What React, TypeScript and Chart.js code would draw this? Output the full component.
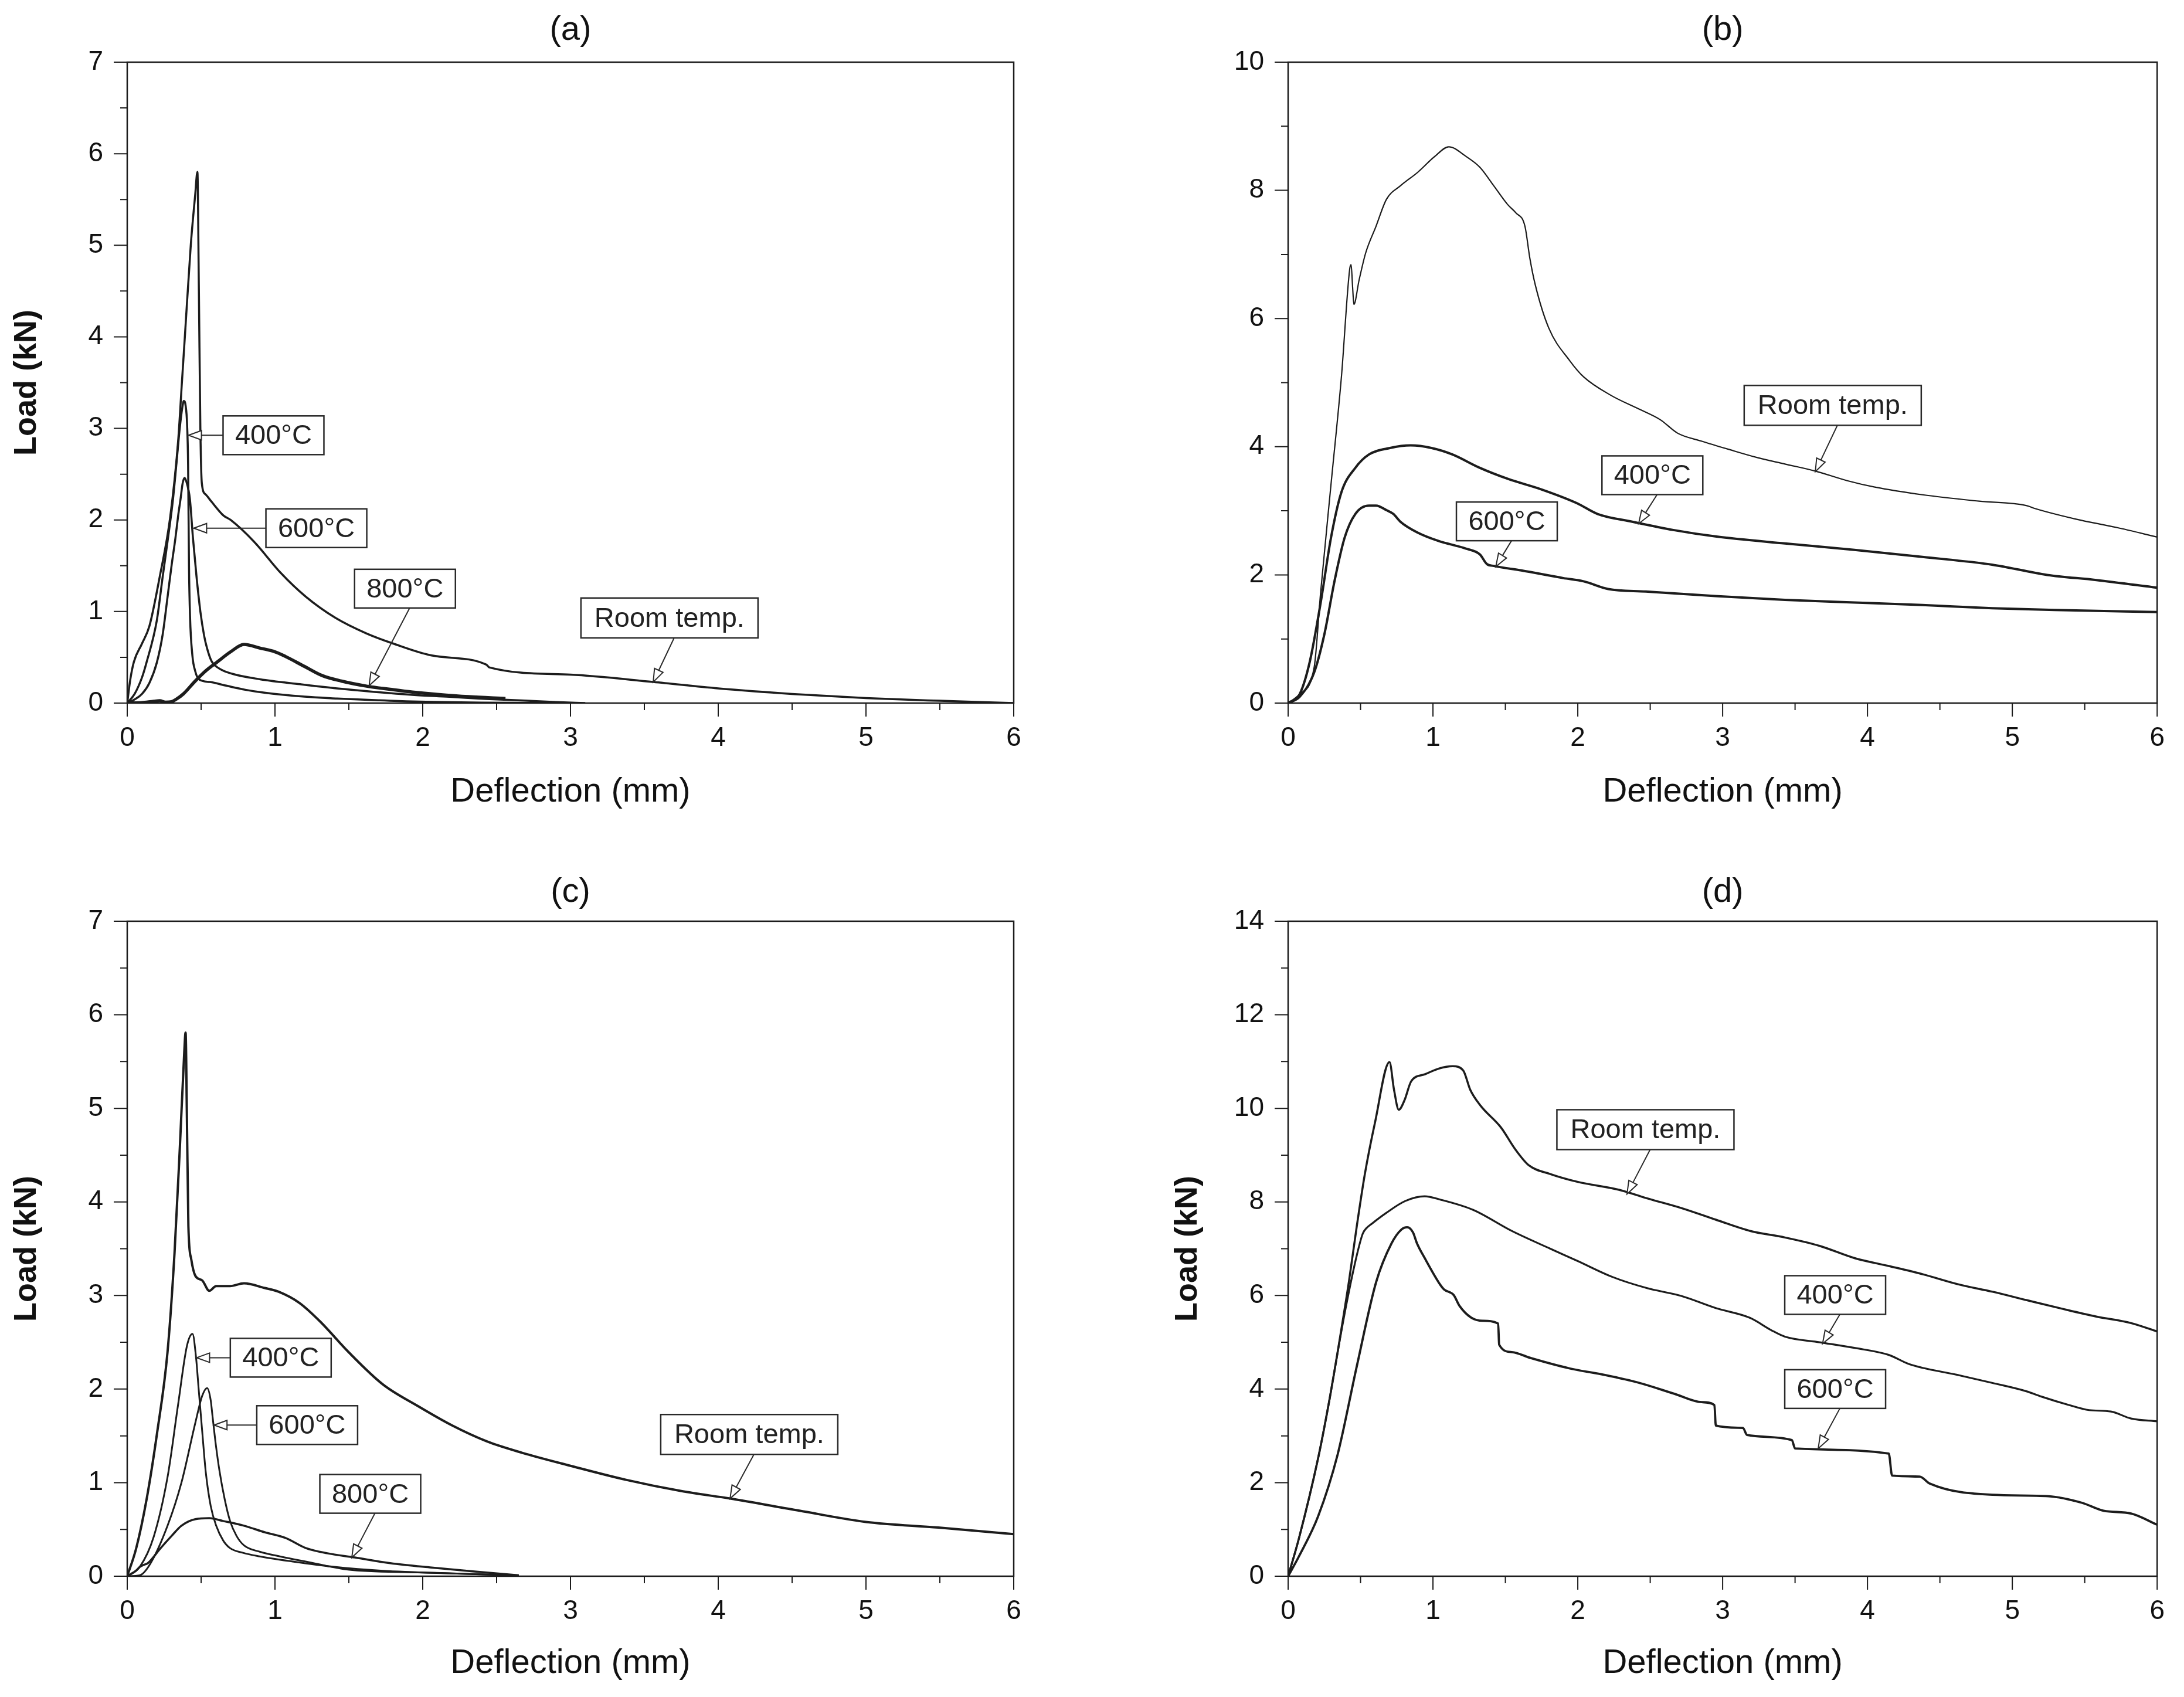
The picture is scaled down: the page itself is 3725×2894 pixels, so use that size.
import { useEffect, useRef } from 'react'
import { Chart, registerables } from 'chart.js'

Chart.register(...registerables)

type Pt = [number, number] // [deflection mm, load kN]

// ---- (a) ----
const roomTempA: Pt[] = [
  [0, 0], [0.02, 0.25], [0.045, 0.45], [0.1, 0.65], [0.15, 0.84], [0.22, 1.38], [0.29, 2.02], [0.345, 2.87],
  [0.37, 3.5], [0.39, 4.0], [0.43, 5.0], [0.46, 5.55], [0.475, 5.8], [0.485, 4.5], [0.495, 3.0], [0.505, 2.4],
  [0.53, 2.28], [0.57, 2.2], [0.65, 2.05], [0.7, 2.0], [0.86, 1.76], [1.04, 1.42], [1.21, 1.16], [1.41, 0.93],
  [1.62, 0.76], [1.8, 0.65], [2.06, 0.52], [2.43, 0.42], [2.45, 0.39], [3.0, 0.31], [3.56, 0.23], [4.0, 0.16],
  [4.5, 0.1], [5.0, 0.055], [5.5, 0.025], [6.0, 0],
]
const c400A: Pt[] = [
  [0, 0], [0.05, 0.1], [0.1, 0.28], [0.13, 0.44], [0.2, 0.9], [0.24, 1.38], [0.28, 1.85], [0.31, 2.23],
  [0.335, 2.65], [0.354, 2.98], [0.372, 3.22], [0.383, 3.3], [0.395, 3.25], [0.405, 3.05], [0.412, 2.6],
  [0.418, 1.5], [0.425, 0.95], [0.441, 0.52], [0.46, 0.35], [0.485, 0.26], [0.56, 0.23], [0.67, 0.19],
  [0.8, 0.145], [0.92, 0.115], [1.2, 0.07], [1.42, 0.05], [1.7, 0.03], [1.93, 0.017], [2.4, 0.005], [3.0, 0],
]
const c600A: Pt[] = [
  [0, 0], [0.05, 0.04], [0.1, 0.1], [0.15, 0.22], [0.2, 0.44], [0.24, 0.75], [0.273, 1.16], [0.3, 1.5],
  [0.326, 1.8], [0.345, 2.05], [0.361, 2.23], [0.375, 2.4], [0.388, 2.46], [0.4, 2.42], [0.424, 2.23],
  [0.445, 1.8], [0.469, 1.38], [0.495, 1.0], [0.52, 0.74], [0.54, 0.6], [0.57, 0.46], [0.62, 0.38],
  [0.71, 0.32], [0.9, 0.26], [1.17, 0.206], [1.42, 0.16], [1.675, 0.122], [1.93, 0.09], [2.18, 0.069],
  [2.43, 0.045], [2.69, 0.027], [2.9, 0.012], [3.1, 0],
]
const c800A: Pt[] = [
  [0, 0], [0.1, 0.005], [0.18, 0.02], [0.22, 0.025], [0.26, 0.01], [0.3, 0.015], [0.33, 0.04], [0.38, 0.1],
  [0.46, 0.24], [0.53, 0.35], [0.61, 0.45], [0.7, 0.56], [0.79, 0.64], [0.9, 0.6], [1.0, 0.56], [1.07, 0.51],
  [1.2, 0.4], [1.32, 0.3], [1.45, 0.24], [1.62, 0.185], [1.78, 0.15], [1.93, 0.12], [2.1, 0.095], [2.31, 0.07],
  [2.56, 0.05],
]

// ---- (b) ----
const roomTempB: Pt[] = [
  [0, 0], [0.08, 0.14], [0.18, 0.56], [0.225, 1.74], [0.296, 3.41], [0.368, 5.09], [0.425, 6.77], [0.435, 6.84],
  [0.445, 6.5], [0.454, 6.22], [0.49, 6.6], [0.535, 7.02], [0.607, 7.44], [0.679, 7.86], [0.775, 8.07],
  [0.894, 8.28], [1.013, 8.53], [1.109, 8.68], [1.228, 8.53], [1.324, 8.36], [1.42, 8.07], [1.515, 7.78],
  [1.572, 7.65], [1.635, 7.44], [1.669, 6.94], [1.707, 6.52], [1.8, 5.85], [1.945, 5.34], [2.04, 5.09],
  [2.23, 4.8], [2.42, 4.59], [2.57, 4.42], [2.69, 4.21], [2.85, 4.09], [3.04, 3.96], [3.24, 3.83], [3.43, 3.73],
  [3.64, 3.62], [3.86, 3.47], [4.05, 3.37], [4.38, 3.25], [4.77, 3.15], [5.1, 3.08], [5.15, 3.04], [5.44, 2.87],
  [5.72, 2.74], [6.0, 2.59],
]
const c400B: Pt[] = [
  [0, 0], [0.08, 0.14], [0.15, 0.65], [0.225, 1.57], [0.296, 2.58], [0.368, 3.29], [0.464, 3.67], [0.559, 3.88],
  [0.703, 3.98], [0.846, 4.02], [0.99, 3.98], [1.133, 3.88], [1.324, 3.67], [1.515, 3.5], [1.754, 3.33],
  [1.993, 3.12], [2.137, 2.95], [2.376, 2.83], [2.66, 2.7], [2.95, 2.6], [3.43, 2.49], [3.91, 2.39], [4.38, 2.28],
  [4.86, 2.16], [5.24, 2.0], [5.58, 1.92], [6.0, 1.8],
]
const c600B: Pt[] = [
  [0, 0], [0.08, 0.1], [0.18, 0.48], [0.25, 1.07], [0.32, 1.9], [0.39, 2.58], [0.464, 2.95], [0.559, 3.08],
  [0.607, 3.08], [0.679, 3.01], [0.727, 2.95], [0.775, 2.83], [0.894, 2.66], [1.037, 2.53], [1.228, 2.41],
  [1.324, 2.32], [1.372, 2.17], [1.42, 2.14], [1.61, 2.07], [1.9, 1.95], [2.04, 1.9], [2.21, 1.78], [2.47, 1.74],
  [2.95, 1.67], [3.43, 1.61], [3.91, 1.57], [4.38, 1.53], [4.86, 1.48], [5.34, 1.45], [6.0, 1.42],
]

// ---- (c) ----
const roomTempC: Pt[] = [
  [0, 0], [0.061, 0.3], [0.132, 0.83], [0.202, 1.53], [0.273, 2.4], [0.32, 3.45], [0.357, 4.61], [0.386, 5.6],
  [0.395, 5.81], [0.404, 4.9], [0.414, 3.74], [0.433, 3.39], [0.461, 3.21], [0.508, 3.16], [0.555, 3.05],
  [0.602, 3.1], [0.696, 3.1], [0.79, 3.13], [0.931, 3.08], [1.025, 3.04], [1.166, 2.92], [1.307, 2.72],
  [1.495, 2.4], [1.73, 2.05], [1.965, 1.82], [2.2, 1.61], [2.435, 1.44], [2.67, 1.32], [3.0, 1.18], [3.376, 1.03],
  [3.75, 0.91], [4.08, 0.83], [4.55, 0.7], [5.0, 0.58], [5.49, 0.52], [6.0, 0.45],
]
const c400C: Pt[] = [
  [0, 0], [0.085, 0.1], [0.179, 0.42], [0.273, 1.06], [0.343, 1.82], [0.404, 2.46], [0.442, 2.59], [0.465, 2.35],
  [0.484, 1.99], [0.51, 1.5], [0.531, 1.12], [0.565, 0.75], [0.602, 0.54], [0.65, 0.38], [0.696, 0.3],
  [0.784, 0.25], [0.884, 0.215], [1.12, 0.157], [1.4, 0.1], [1.73, 0.058], [2.2, 0.03], [2.65, 0.01],
]
const c600C: Pt[] = [
  [0, 0], [0.085, 0.01], [0.155, 0.13], [0.273, 0.54], [0.367, 1.0], [0.461, 1.64], [0.508, 1.93], [0.541, 2.01],
  [0.565, 1.88], [0.578, 1.7], [0.6, 1.4], [0.625, 1.12], [0.66, 0.82], [0.696, 0.59], [0.74, 0.43], [0.79, 0.33],
  [0.9, 0.26], [1.025, 0.215], [1.26, 0.14], [1.495, 0.07], [1.965, 0.04], [2.65, 0.01],
]
const c800C: Pt[] = [
  [0, 0], [0.06, 0.06], [0.085, 0.1], [0.11, 0.12], [0.14, 0.14], [0.226, 0.3], [0.3, 0.43], [0.367, 0.54],
  [0.461, 0.61], [0.555, 0.62], [0.649, 0.59], [0.79, 0.54], [0.93, 0.47], [1.07, 0.41], [1.21, 0.3],
  [1.354, 0.245], [1.54, 0.2], [1.78, 0.14], [2.06, 0.093], [2.34, 0.052], [2.65, 0.01],
]

// ---- (d) ----
const roomTempD: Pt[] = [
  [0, 0], [0.074, 0.8], [0.207, 2.52], [0.287, 3.8], [0.354, 5.02], [0.42, 6.3], [0.475, 7.5], [0.53, 8.6],
  [0.6, 9.7], [0.7, 10.99], [0.731, 10.4], [0.764, 9.97], [0.803, 10.17], [0.85, 10.58], [0.946, 10.73],
  [1.04, 10.85], [1.137, 10.9], [1.209, 10.81], [1.257, 10.4], [1.328, 10.06], [1.47, 9.59], [1.567, 9.13],
  [1.663, 8.78], [1.806, 8.6], [1.997, 8.43], [2.284, 8.26], [2.475, 8.08], [2.714, 7.87], [2.953, 7.62],
  [3.19, 7.38], [3.43, 7.24], [3.67, 7.06], [3.91, 6.8], [4.147, 6.63], [4.386, 6.45], [4.625, 6.24],
  [4.864, 6.08], [5.1, 5.9], [5.34, 5.72], [5.58, 5.55], [5.82, 5.41], [6.0, 5.23],
]
const c400D: Pt[] = [
  [0, 0], [0.074, 0.8], [0.207, 2.52], [0.287, 3.8], [0.354, 5.0], [0.408, 5.9], [0.475, 6.87], [0.515, 7.32],
  [0.541, 7.44], [0.58, 7.54], [0.675, 7.76], [0.809, 8.02], [0.943, 8.12], [1.05, 8.05], [1.277, 7.83],
  [1.544, 7.38], [1.81, 7.0], [1.997, 6.74], [2.236, 6.4], [2.475, 6.16], [2.714, 5.99], [2.953, 5.73],
  [3.19, 5.52], [3.335, 5.26], [3.43, 5.12], [3.67, 5.0], [3.91, 4.88], [4.147, 4.73], [4.29, 4.53], [4.625, 4.3],
  [4.864, 4.13], [5.1, 3.95], [5.2, 3.84], [5.39, 3.66], [5.53, 3.55], [5.68, 3.52], [5.82, 3.37], [6.0, 3.31],
]
const c600D: Pt[] = [
  [0, 0], [0.074, 0.42], [0.207, 1.28], [0.341, 2.59], [0.475, 4.5], [0.608, 6.29], [0.715, 7.12], [0.782, 7.41],
  [0.822, 7.46], [0.862, 7.35], [0.889, 7.12], [0.943, 6.8], [1.05, 6.23], [1.076, 6.13], [1.143, 6.01],
  [1.183, 5.78], [1.263, 5.53], [1.344, 5.46], [1.45, 5.4], [1.457, 4.95], [1.544, 4.79], [1.678, 4.66],
  [1.945, 4.44], [2.188, 4.3], [2.427, 4.13], [2.666, 3.9], [2.857, 3.72], [2.943, 3.66], [2.953, 3.22],
  [3.14, 3.17], [3.168, 3.02], [3.478, 2.91], [3.5, 2.73], [4.147, 2.62], [4.17, 2.15], [4.36, 2.13],
  [4.43, 1.98], [4.864, 1.74], [5.25, 1.71], [5.48, 1.57], [5.63, 1.4], [5.82, 1.34], [6.0, 1.1],
]

const FONT = '"Liberation Sans", Arial, Helvetica, sans-serif'
const INK = '#1c1c1c'

interface Note {
  text: string
  x: number // box centre (data)
  y: number
  w: number // box size (px)
  h: number
  arrow: 'left' | 'down'
  tipX: number
  tipY: number
}

interface Series {
  label: string
  data: Pt[]
  width: number
}

interface Panel {
  title: string
  yMax: number
  yStep: number
  yMinor: number
  showYTitle: boolean
  left: number
  top: number
  width: number
  height: number
  area: { left: number; top: number; right: number; bottom: number }
  titleY: number
  xTitleY: number
  series: Series[]
  notes: Note[]
}

const degBox = { w: 172, h: 66 }
const rtBox = { w: 302, h: 68 }

const panels: Panel[] = [
  {
    title: '(a)', yMax: 7, yStep: 1, yMinor: 0.5, showYTitle: true,
    left: 0, top: 0, width: 1862, height: 1447,
    area: { left: 217, top: 106, right: 1729, bottom: 1199 },
    titleY: 52, xTitleY: 1351,
    series: [
      { label: 'Room temp.', data: roomTempA, width: 3.5 },
      { label: '400°C', data: c400A, width: 3.5 },
      { label: '600°C', data: c600A, width: 3.5 },
      { label: '800°C', data: c800A, width: 5.5 },
    ],
    notes: [
      { text: '400°C', x: 0.99, y: 2.925, ...degBox, arrow: 'left', tipX: 0.415, tipY: 2.925 },
      { text: '600°C', x: 1.28, y: 1.91, ...degBox, arrow: 'left', tipX: 0.45, tipY: 1.91 },
      { text: '800°C', x: 1.88, y: 1.25, ...degBox, arrow: 'down', tipX: 1.637, tipY: 0.19 },
      { text: 'Room temp.', x: 3.67, y: 0.93, ...rtBox, arrow: 'down', tipX: 3.56, tipY: 0.23 },
    ],
  },
  {
    title: '(b)', yMax: 10, yStep: 2, yMinor: 1, showYTitle: false,
    left: 1862, top: 0, width: 1863, height: 1447,
    area: { left: 335, top: 106, right: 1830, bottom: 1199 },
    titleY: 52, xTitleY: 1351,
    series: [
      { label: 'Room temp.', data: roomTempB, width: 2.2 },
      { label: '400°C', data: c400B, width: 4 },
      { label: '600°C', data: c600B, width: 4 },
    ],
    notes: [
      { text: 'Room temp.', x: 3.76, y: 4.645, ...rtBox, arrow: 'down', tipX: 3.64, tipY: 3.61 },
      { text: '400°C', x: 2.515, y: 3.555, ...degBox, arrow: 'down', tipX: 2.42, tipY: 2.8 },
      { text: '600°C', x: 1.51, y: 2.835, ...degBox, arrow: 'down', tipX: 1.434, tipY: 2.13 },
    ],
  },
  {
    title: '(c)', yMax: 7, yStep: 1, yMinor: 0.5, showYTitle: true,
    left: 0, top: 1447, width: 1862, height: 1447,
    area: { left: 217, top: 124, right: 1729, bottom: 1241 },
    titleY: 75, xTitleY: 1390,
    series: [
      { label: 'Room temp.', data: roomTempC, width: 4 },
      { label: '400°C', data: c400C, width: 3 },
      { label: '600°C', data: c600C, width: 3 },
      { label: '800°C', data: c800C, width: 3.5 },
    ],
    notes: [
      { text: '400°C', x: 1.039, y: 2.335, ...degBox, arrow: 'left', tipX: 0.47, tipY: 2.335 },
      { text: '600°C', x: 1.218, y: 1.615, ...degBox, arrow: 'left', tipX: 0.588, tipY: 1.615 },
      { text: '800°C', x: 1.645, y: 0.88, ...degBox, arrow: 'down', tipX: 1.52, tipY: 0.2 },
      { text: 'Room temp.', x: 4.21, y: 1.515, ...rtBox, arrow: 'down', tipX: 4.08, tipY: 0.83 },
    ],
  },
  {
    title: '(d)', yMax: 14, yStep: 2, yMinor: 1, showYTitle: true,
    left: 1862, top: 1447, width: 1863, height: 1447,
    area: { left: 335, top: 124, right: 1830, bottom: 1241 },
    titleY: 75, xTitleY: 1390,
    series: [
      { label: 'Room temp.', data: roomTempD, width: 3.5 },
      { label: '400°C', data: c400D, width: 3.2 },
      { label: '600°C', data: c600D, width: 3.8 },
    ],
    notes: [
      { text: 'Room temp.', x: 2.467, y: 9.545, ...rtBox, arrow: 'down', tipX: 2.34, tipY: 8.17 },
      { text: '400°C', x: 3.777, y: 6.01, ...degBox, arrow: 'down', tipX: 3.69, tipY: 4.97 },
      { text: '600°C', x: 3.777, y: 4.0, ...degBox, arrow: 'down', tipX: 3.66, tipY: 2.73 },
    ],
  },
]

function decorPlugin(p: Panel) {
  return {
    id: 'decor',
    afterDraw(chart: Chart) {
      const { ctx, chartArea: ca } = chart
      const xs = chart.scales.x
      const ys = chart.scales.y
      ctx.save()

      // frame
      ctx.strokeStyle = INK
      ctx.lineWidth = 2.5
      ctx.strokeRect(ca.left, ca.top, ca.right - ca.left, ca.bottom - ca.top)

      // outward ticks, major + minor
      ctx.lineWidth = 2
      ctx.beginPath()
      for (let v = 0; v <= 6 + 1e-9; v += 0.5) {
        const px = xs.getPixelForValue(v)
        const len = Math.abs(v - Math.round(v)) < 1e-6 ? 23 : 12
        ctx.moveTo(px, ca.bottom)
        ctx.lineTo(px, ca.bottom + len)
      }
      for (let v = 0; v <= p.yMax + 1e-9; v += p.yMinor) {
        const py = ys.getPixelForValue(v)
        const major = Math.abs(v / p.yStep - Math.round(v / p.yStep)) < 1e-6
        ctx.moveTo(ca.left, py)
        ctx.lineTo(ca.left - (major ? 23 : 12), py)
      }
      ctx.stroke()

      // titles
      ctx.fillStyle = '#111'
      ctx.textAlign = 'center'
      ctx.textBaseline = 'middle'
      ctx.font = `58px ${FONT}`
      const cx = (ca.left + ca.right) / 2
      ctx.fillText(p.title, cx, p.titleY)
      ctx.fillText('Deflection (mm)', cx, p.xTitleY)
      if (p.showYTitle) {
        ctx.save()
        ctx.translate(ca.left - 156, (ca.top + ca.bottom) / 2)
        ctx.rotate(-Math.PI / 2)
        ctx.font = `bold 54px ${FONT}`
        ctx.textBaseline = 'alphabetic'
        ctx.fillText('Load (kN)', 0, 0)
        ctx.restore()
      }

      // call-out boxes with open-headed arrows
      for (const n of p.notes) {
        const bx = xs.getPixelForValue(n.x)
        const by = ys.getPixelForValue(n.y)
        const tx = xs.getPixelForValue(n.tipX)
        const ty = n.arrow === 'left' ? by : ys.getPixelForValue(n.tipY)
        const sx = n.arrow === 'left' ? bx - n.w / 2 : bx + 8
        const sy = n.arrow === 'left' ? by : by + n.h / 2
        const ang = Math.atan2(ty - sy, tx - sx)
        const hl = 22
        const hw = 8
        const cos = Math.cos(ang)
        const sin = Math.sin(ang)
        const baseX = tx - hl * cos
        const baseY = ty - hl * sin
        ctx.strokeStyle = '#2a2a2a'
        ctx.lineWidth = 2
        ctx.beginPath()
        ctx.moveTo(sx, sy)
        ctx.lineTo(baseX, baseY)
        ctx.stroke()
        ctx.beginPath()
        ctx.moveTo(tx, ty)
        ctx.lineTo(baseX - hw * sin, baseY + hw * cos)
        ctx.lineTo(baseX + hw * sin, baseY - hw * cos)
        ctx.closePath()
        ctx.fillStyle = '#fff'
        ctx.fill()
        ctx.stroke()

        ctx.fillStyle = '#fff'
        ctx.fillRect(bx - n.w / 2, by - n.h / 2, n.w, n.h)
        ctx.lineWidth = 2.5
        ctx.strokeRect(bx - n.w / 2, by - n.h / 2, n.w, n.h)
        ctx.fillStyle = '#222'
        ctx.font = `47px ${FONT}`
        ctx.textAlign = 'center'
        ctx.textBaseline = 'middle'
        ctx.fillText(n.text, bx, by + 2)
      }
      ctx.restore()
    },
  }
}

function PanelChart({ p }: { p: Panel }) {
  const canvasRef = useRef<HTMLCanvasElement>(null)
  const chartRef = useRef<Chart | null>(null)

  useEffect(() => {
    if (!canvasRef.current) return
    if (chartRef.current) chartRef.current.destroy()

    const tickFont = { family: FONT, size: 46 }

    chartRef.current = new Chart(canvasRef.current, {
      type: 'line',
      data: {
        datasets: p.series.map((s) => ({
          label: s.label,
          data: s.data.map(([x, y]) => ({ x, y })),
          borderColor: INK,
          borderWidth: s.width,
          pointRadius: 0,
          fill: false,
          cubicInterpolationMode: 'monotone' as const,
        })),
      },
      options: {
        animation: false,
        responsive: false,
        devicePixelRatio: 1,
        events: [],
        layout: {
          padding: { left: 0, top: p.area.top, right: p.width - p.area.right, bottom: 0 },
        },
        plugins: {
          legend: { display: false },
          tooltip: { enabled: false },
          title: { display: false },
        },
        scales: {
          x: {
            type: 'linear',
            min: 0,
            max: 6,
            ticks: { stepSize: 1, padding: 33, font: tickFont, color: '#111', maxRotation: 0 },
            grid: { display: false, drawTicks: false },
            border: { display: false },
            afterFit: (s: any) => {
              s.height = p.height - p.area.bottom
            },
          },
          y: {
            type: 'linear',
            min: 0,
            max: p.yMax,
            ticks: { stepSize: p.yStep, padding: 41, font: tickFont, color: '#111' },
            grid: { display: false, drawTicks: false },
            border: { display: false },
            afterFit: (s: any) => {
              s.width = p.area.left
            },
          },
        },
      },
      plugins: [decorPlugin(p)],
    })

    return () => {
      if (chartRef.current) {
        chartRef.current.destroy()
        chartRef.current = null
      }
    }
  }, [p])

  return (
    <canvas
      ref={canvasRef}
      width={p.width}
      height={p.height}
      style={{ position: 'absolute', left: p.left, top: p.top, width: p.width, height: p.height }}
    />
  )
}

export default function App() {
  return (
    <div style={{ position: 'fixed', left: 0, top: 0, width: 3725, height: 2894, background: '#fff' }}>
      {panels.map((p) => (
        <PanelChart key={p.title} p={p} />
      ))}
    </div>
  )
}
